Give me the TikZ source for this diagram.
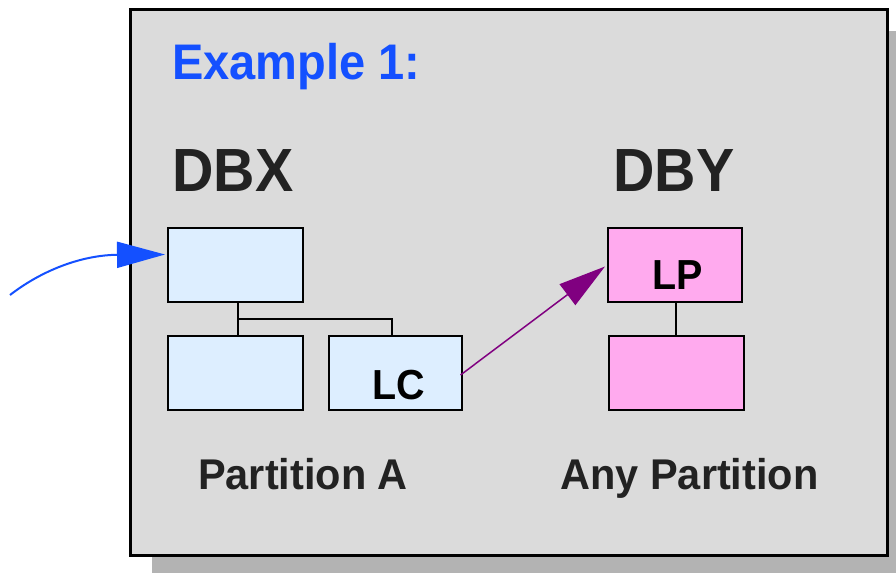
\documentclass[tikz,border=0pt]{standalone}
\usepackage{fontspec}
\setmainfont{Liberation Sans}
\newfontfamily\condsans[FakeStretch=0.94]{Liberation Sans}
\newfontfamily\partsans[FakeStretch=0.965]{Liberation Sans}
\usetikzlibrary{arrows.meta,calc}
\definecolor{panel}{HTML}{DBDBDB}
\definecolor{shadowc}{HTML}{B3B3B3}
\definecolor{bluet}{HTML}{1450FF}
\definecolor{boxblue}{HTML}{DDEEFF}
\definecolor{boxpink}{HTML}{FFAAEE}
\definecolor{darkt}{HTML}{222222}
\definecolor{purp}{HTML}{800080}
\begin{document}
\begin{tikzpicture}[x=1pt,y=-1pt,
  bluebox/.style={draw=black,line width=2pt,fill=boxblue,minimum width=135pt,minimum height=74pt,inner sep=0pt},
  pinkbox/.style={draw=black,line width=2pt,fill=boxpink,minimum width=134pt,minimum height=74pt,inner sep=0pt},
  conn/.style={line width=2pt,draw=black},
  lbl/.style={inner sep=0pt,anchor=base,font=\condsans\bfseries\fontsize{42}{44}\selectfont,text=black},
  head/.style={inner sep=0pt,anchor=base west,font=\condsans\bfseries\fontsize{61}{64}\selectfont,text=darkt},
  part/.style={inner sep=0pt,anchor=base,font=\partsans\bfseries\fontsize{43}{46}\selectfont,text=darkt},
  bigtip/.style={-{Triangle[length=47pt,width=26pt]}}]
\useasboundingbox (0,0) rectangle (896,573);
\fill[shadowc] (152,31) rectangle (896,573);
\draw[fill=panel,line width=3pt] (130.5,9.5) rectangle (887.5,555.5);

\node[inner sep=0pt,anchor=base west,font=\condsans\bfseries\fontsize{50}{52}\selectfont,text=bluet] (title) at (172,79) {Example 1:};
\node[head] (dbx) at (172,191) {DBX};
\node[head] (dby) at (613,191) {DBY};

\node[bluebox] (dbxtop) at (235.5,264.5) {};
\node[bluebox] (dbxbl) at (235.5,373) {};
\node[bluebox,minimum width=133pt] (lc) at (395,373) {};
\node[pinkbox] (lp) at (675,264.5) {};
\node[pinkbox,minimum width=135pt] (lpb) at (676,373) {};

\node[lbl] (lctext) at (399,399) {LC};
\node[lbl] (lptext) at (678,289) {LP};

\draw[conn] ([xshift=2pt]dbxtop.south) -- ([xshift=2pt]dbxbl.north);
\coordinate (jn) at (237.5,318.5);
\draw[conn] (jn) -| ([xshift=-3pt]lc.north);
\coordinate (lpc) at ([xshift=1pt]lp.south);
\draw[conn] (lpc) -- (lpc |- lpb.north);

\node[part] (pa) at (303,489) {Partition A};
\node[part] (pany) at (689.5,489) {Any Partition};

\draw[purp,line width=1.5pt,bigtip] ([xshift=-2pt,yshift=-2pt]lc.east) -- ([xshift=-2pt,yshift=-2pt]lp.west);

\coordinate (bstart) at (10,295);
\draw[bluet,line width=2pt,-{Triangle[length=48pt,width=26pt]}] (bstart) .. controls (45,268) and (85,255) .. ([shift={(-2,-10)}]dbxtop.west);
\end{tikzpicture}
\end{document}
